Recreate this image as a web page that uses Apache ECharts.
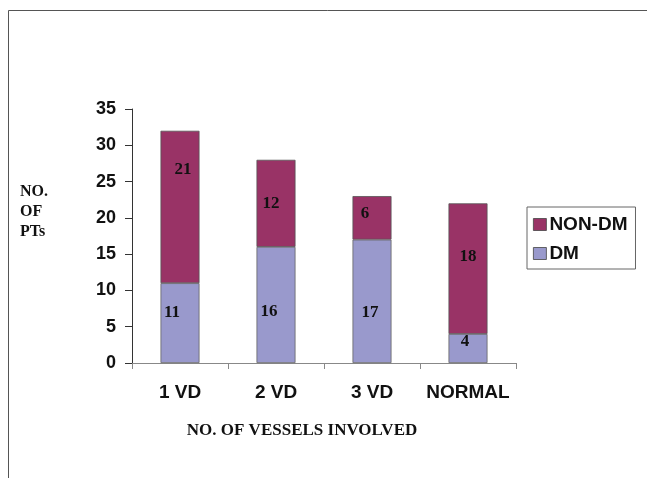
<!DOCTYPE html>
<html>
<head>
<meta charset="utf-8">
<script src="https://cdn.jsdelivr.net/npm/echarts@6/dist/echarts.min.js"></script>
<style>html,body{margin:0;padding:0;background:#fff}#c{width:647px;height:478px}</style>
</head>
<body>
<div id="c"></div>
<script>
var categories = ['1 VD', '2 VD', '3 VD', 'NORMAL'];
var dmValues = [11, 16, 17, 4];
var nonDmValues = [21, 12, 6, 18];
var yTicks = [0, 5, 10, 15, 20, 25, 30, 35];

// label nudges (style only, in pixels)
var dmLabelShift = [[-8, -10], [-7, 7], [-2, 11], [-3, -7]];
var nonDmLabelShift = [[3, -37], [-5, 0], [-7, -4], [0, -12]];

var chart = echarts.init(document.getElementById('c'));
var serif = '"Liberation Serif", "Times New Roman", serif';
var sans = '"Liberation Sans", Arial, sans-serif';

function mkData(vals, shifts) {
  return vals.map(function (v, i) {
    return { value: v, label: { offset: shifts[i] } };
  });
}

chart.setOption({
  animation: false,
  backgroundColor: '#fff',
  graphic: [{
    type: 'polyline',
    shape: { points: [[8.5, 478], [8.5, 10.5], [647, 10.5]] },
    style: { stroke: '#555', lineWidth: 1, fill: null }
  }, {
    type: 'text',
    left: 20, top: 182,
    style: { text: 'NO.\nOF\nPTs', font: 'bold 16px ' + serif, fill: '#111', lineHeight: 20 }
  }],
  legend: {
    orient: 'vertical',
    left: 527, top: 207,
    padding: [8, 8, 6, 6],
    itemGap: 10,
    itemWidth: 13, itemHeight: 12,
    borderColor: '#666', borderWidth: 1,
    data: [
      { name: 'NON-DM', icon: 'rect' },
      { name: 'DM', icon: 'rect' }
    ],
    itemStyle: { borderColor: '#444', borderWidth: 0.8 },
    textStyle: { fontFamily: sans, fontWeight: 'bold', fontSize: 19, color: '#111', padding: [0, 0, 0, -2] }
  },
  grid: { left: 132, top: 109, width: 384, height: 254 },
  xAxis: {
    type: 'category',
    data: categories,
    name: 'NO. OF VESSELS INVOLVED',
    nameLocation: 'middle',
    nameGap: 59,
    nameTextStyle: { fontFamily: serif, fontWeight: 'bold', fontSize: 17, color: '#111', padding: [0, 0, 0, -44] },
    axisLine: { lineStyle: { color: '#888' } },
    axisTick: { show: true, interval: 0, length: 6, lineStyle: { color: '#888' } },
    axisLabel: { interval: 0, fontFamily: sans, fontWeight: 'bold', fontSize: 19, color: '#111', margin: 20 }
  },
  yAxis: {
    type: 'value',
    min: yTicks[0], max: yTicks[yTicks.length - 1], interval: 5,
    axisLine: { show: true, lineStyle: { color: '#333' } },
    axisTick: { show: true, length: 7, lineStyle: { color: '#333' } },
    splitLine: { show: false },
    axisLabel: { fontFamily: sans, fontWeight: 'bold', fontSize: 18, color: '#111', margin: 16 }
  },
  series: [{
    name: 'DM',
    type: 'bar',
    stack: 'a',
    barWidth: 39,
    data: mkData(dmValues, dmLabelShift),
    itemStyle: { color: '#9999CC', borderColor: '#666', borderWidth: 0.8 },
    label: { show: true, position: 'inside', fontFamily: serif, fontWeight: 'bold', fontSize: 17, color: '#111' }
  }, {
    name: 'NON-DM',
    type: 'bar',
    stack: 'a',
    barWidth: 39,
    data: mkData(nonDmValues, nonDmLabelShift),
    itemStyle: { color: '#993366', borderColor: '#555', borderWidth: 0.8 },
    label: { show: true, position: 'inside', fontFamily: serif, fontWeight: 'bold', fontSize: 17, color: '#111' }
  }]
});
</script>
</body>
</html>
